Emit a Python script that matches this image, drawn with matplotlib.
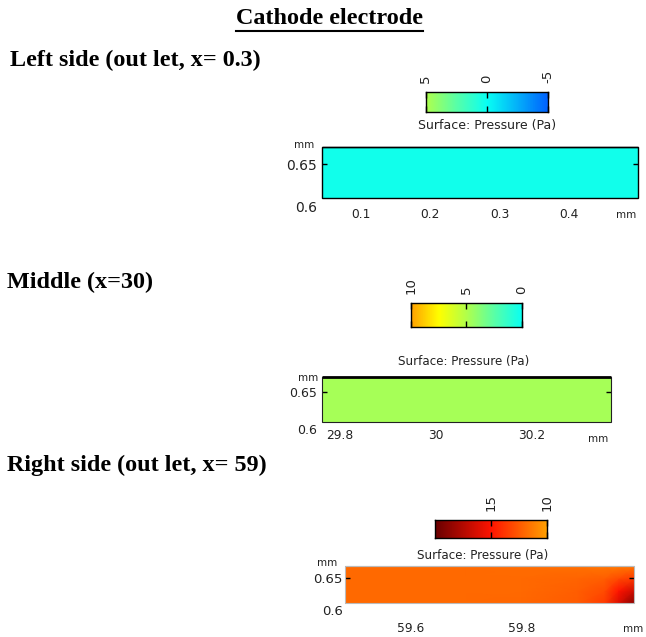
import numpy as np
import matplotlib
matplotlib.use("Agg")
import matplotlib.pyplot as plt
from matplotlib.colors import LinearSegmentedColormap, Normalize
from matplotlib.patches import Rectangle
from matplotlib.lines import Line2D

# ---------------- data ----------------
title = "Cathode electrode"
headings = ["Left side (out let, x= 0.3)", "Middle (x=30)", "Right side (out let, x= 59)"]

# global pressure colour scale (Pa)
cmap_values = [-5, 0, 2.5, 5, 7.5, 10, 15, 20]
cmap_colors = ["#0060ff", "#08fff4", "#58ffa8", "#b0ff4c", "#ffff00", "#ffa000", "#ff1400", "#6a0000"]

# panel 1 : left side
p1_x = [0.044, 0.499]
p1_y = [0.61, 0.67]
p1_pressure = [[0.3, 0.3],
               [0.3, 0.3]]
p1_xticks = [0.1, 0.2, 0.3, 0.4]
p1_xticklabels = ["0.1", "0.2", "0.3", "0.4"]
p1_cbar = (5, -5)
p1_cbar_ticks = [5, 0, -5]
p1_cbar_labels = ["5", "0", "-5"]

# panel 2 : middle
p2_x = [29.762, 30.366]
p2_y = [0.61, 0.67]
p2_pressure = [[4.7, 4.7],
               [4.7, 4.7]]
p2_xticks = [29.8, 30.0, 30.2]
p2_xticklabels = ["29.8", "30", "30.2"]
p2_cbar = (10, 0)
p2_cbar_ticks = [10, 5, 0]
p2_cbar_labels = ["10", "5", "0"]

# panel 3 : right side
p3_x = [59.481, 59.6, 59.7, 59.8, 59.9, 59.95, 59.975, 60.003]
p3_y = [0.61, 0.63, 0.65, 0.67]
p3_pressure = [[11.9, 11.9, 11.9, 12.0, 12.4, 13.6, 16.2, 19.0],
               [11.9, 11.9, 11.9, 11.9, 12.3, 13.0, 15.0, 16.6],
               [11.9, 11.9, 11.9, 11.9, 12.1, 12.3, 13.0, 13.6],
               [11.9, 11.9, 11.9, 11.8, 11.7, 11.5, 11.3, 11.5]]
p3_xticks = [59.6, 59.8]
p3_xticklabels = ["59.6", "59.8"]
p3_cbar = (20, 10)
p3_cbar_ticks = [15, 10]
p3_cbar_labels = ["15", "10"]

y_ticks = [0.6, 0.65]
y_ticklabels = ["0.6", "0.65"]
cbar_title = "Surface: Pressure (Pa)"

# ---------------- figure ----------------
W, H = 646, 637
fig = plt.figure(figsize=(W / 100, H / 100), dpi=100)
fig.patch.set_facecolor("white")

vmin, vmax = cmap_values[0], cmap_values[-1]
norm = Normalize(vmin, vmax)
cmap = LinearSegmentedColormap.from_list(
    "comsol", [((v - vmin) / (vmax - vmin), c) for v, c in zip(cmap_values, cmap_colors)])

SANS = "DejaVu Sans"
SERIF = "Liberation Serif"


def px_axes(l, t, r, b):
    return fig.add_axes([l / W, 1 - b / H, (r - l) / W, (b - t) / H])


def ftext(x, y, s, **kw):
    return fig.text(x / W, 1 - y / H, s, **kw)


# headings
HFS = 17.4
t_title = ftext(329.5, 19, title, family=SERIF, weight="bold", fontsize=HFS, ha="center", va="center")
ftext(10, 60, headings[0], family=SERIF, weight="bold", fontsize=HFS, ha="left", va="center")
ftext(7, 282, headings[1], family=SERIF, weight="bold", fontsize=HFS, ha="left", va="center")
ftext(7, 465, headings[2], family=SERIF, weight="bold", fontsize=HFS, ha="left", va="center")

panels = [
    dict(x=p1_x, y=p1_y, p=p1_pressure, xt=p1_xticks, xtl=p1_xticklabels,
         box=(321.7, 147.3, 637.7, 206.8), xpad=1.0, ylpad=3.4, yfs=10, xfs=8.8,
         edge=dict(ec="black", lw=1.0), top_lw=1.0,
         cbar=p1_cbar, cbt=p1_cbar_ticks, cbl=p1_cbar_labels, cbox=(425.7, 92.3, 548.3, 112.3),
         ctitle=(487, 125, 9.0), ymm=(304, 145), xmm=(626, 215)),
    dict(x=p2_x, y=p2_y, p=p2_pressure, xt=p2_xticks, xtl=p2_xticklabels,
         box=(321.7, 377.3, 611.0, 429.1), xpad=0.0, ylpad=3.4, yfs=9, xfs=8.8,
         edge=dict(ec="#222222", lw=0.8), top_lw=2.0,
         cbar=p2_cbar, cbt=p2_cbar_ticks, cbl=p2_cbar_labels, cbox=(410.7, 302.7, 521.7, 326.7),
         ctitle=(464, 361, 8.6), ymm=(308, 378), xmm=(598, 438.5)),
    dict(x=p3_x, y=p3_y, p=p3_pressure, xt=p3_xticks, xtl=p3_xticklabels,
         box=(345.3, 565.7, 634.0, 609.6), xpad=8.6, ylpad=2.0, yfs=9.5, xfs=8.8,
         edge=dict(ec="#bbbbbb", lw=0.8), top_lw=0.8,
         cbar=p3_cbar, cbt=p3_cbar_ticks, cbl=p3_cbar_labels, cbox=(435.0, 520.0, 546.7, 538.3),
         ctitle=(483, 556, 8.6), ymm=(327, 563), xmm=(633, 629)),
]

for P in panels:
    # ---- surface plot ----
    ax = px_axes(*P["box"])
    x = np.asarray(P["x"])
    y = np.asarray(P["y"])
    z = np.asarray(P["p"])
    ax.pcolormesh(x, y, z, cmap=cmap, norm=norm, shading="gouraud")
    ax.set_xlim(x[0], x[-1])
    ax.set_ylim(0.6, y[-1])
    ax.add_patch(Rectangle((x[0], y[0]), x[-1] - x[0], y[-1] - y[0], fill=False,
                           ec=P["edge"]["ec"], lw=P["edge"]["lw"], clip_on=False, zorder=3))
    ax.plot([x[0], x[-1]], [y[-1], y[-1]], color="black" if P["top_lw"] > 1 else P["edge"]["ec"],
            lw=P["top_lw"], clip_on=False, zorder=4, solid_capstyle="butt")
    for s in ax.spines.values():
        s.set_visible(False)
    ax.set_xticks(P["xt"])
    ax.set_xticklabels(P["xtl"])
    ax.tick_params(axis="x", length=0, pad=P["xpad"], labelsize=P["xfs"], labelcolor="#222222")
    ax.set_yticks(y_ticks)
    ax.set_yticklabels(y_ticklabels)
    ax.tick_params(axis="y", direction="in", length=3.5, width=1.0, pad=P["ylpad"],
                   labelsize=P["yfs"], labelcolor="#222222", right=True)
    ytk = ax.yaxis.get_major_ticks()
    ytk[0].tick1line.set_visible(False)
    ytk[0].tick2line.set_visible(False)
    for lab in ax.get_xticklabels() + ax.get_yticklabels():
        lab.set_family(SANS)
    ftext(P["ymm"][0], P["ymm"][1], "mm", family=SANS, fontsize=7.5, ha="center", va="center", color="#222222")
    ftext(P["xmm"][0], P["xmm"][1], "mm", family=SANS, fontsize=7.5, ha="center", va="center", color="#222222")

    # ---- colour bar ----
    cax = px_axes(*P["cbox"])
    hi, lo = P["cbar"]
    grad = np.linspace(lo, hi, 256)[None, :]
    cax.imshow(grad, extent=[lo, hi, 0, 1], aspect="auto", cmap=cmap, norm=norm, origin="lower")
    cax.set_xlim(hi, lo)
    cax.set_ylim(0, 1)
    cax.set_yticks([])
    cax.xaxis.tick_top()
    cax.set_xticks(P["cbt"])
    cax.set_xticklabels(P["cbl"], rotation=90, family=SANS)
    cax.tick_params(axis="x", direction="in", length=4, width=1.0, top=True, bottom=True,
                    pad=6.5, labelsize=9.5, labelcolor="#222222")
    for s in cax.spines.values():
        s.set_linewidth(1.0)
        s.set_color("black")
    ftext(P["ctitle"][0], P["ctitle"][1], cbar_title, family=SANS, fontsize=P["ctitle"][2],
          ha="center", va="center", color="#222222")

# underline for the title
fig.canvas.draw()
bb = t_title.get_window_extent()
fig.add_artist(Line2D([bb.x0 / W, bb.x1 / W], [(bb.y0 - 1) / H, (bb.y0 - 1) / H],
                      transform=fig.transFigure, color="black", lw=1.5))

fig.savefig("out.png", dpi=100)
